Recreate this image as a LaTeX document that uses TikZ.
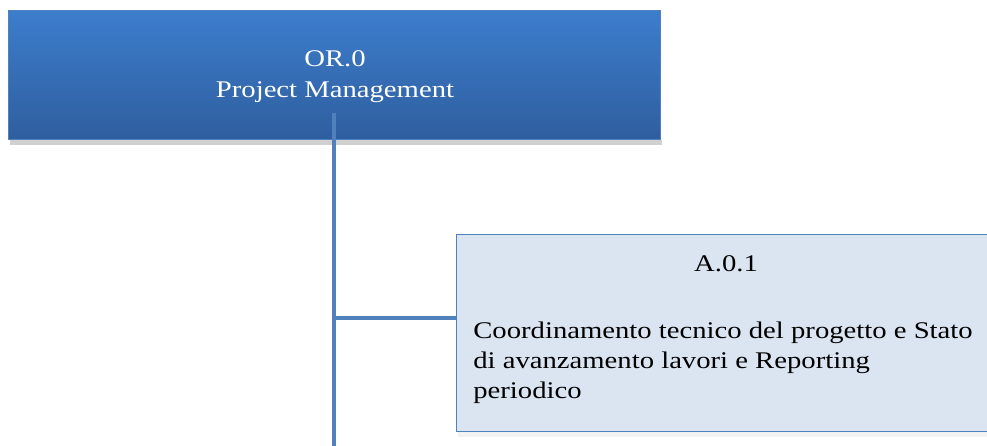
\documentclass[tikz,border=0pt]{standalone}
\usepackage{fontspec}
\setmainfont{Liberation Serif}[FakeStretch=1.2]
\definecolor{topA}{HTML}{3C7DCC}
\definecolor{topB}{HTML}{2F5E9F}
\definecolor{lineC}{HTML}{5181BC}
\definecolor{boxF}{HTML}{DBE5F1}
\definecolor{boxD}{HTML}{4F81BD}
\definecolor{shad}{HTML}{D0D0D0}
\begin{document}
\begin{tikzpicture}[x=0.02cm,y=-0.02cm,
  topbox/.style={draw=boxD,line width=0.8pt,top color=topA,bottom color=topB,minimum width=652*0.02cm,minimum height=129*0.02cm,inner sep=0pt},
  subbox/.style={draw=boxD,line width=0.8pt,fill=boxF,minimum width=540*0.02cm,minimum height=197*0.02cm,inner sep=0pt},
  txt/.style={inner sep=0pt,font=\fontsize{13.6}{17.6}\selectfont},
  conn/.style={draw=lineC,line width=2.5pt}]
\useasboundingbox (0,0) rectangle (987,446);
\begin{scope}
\clip (0,0) rectangle (987,446);
\fill[shad] (10,140) rectangle (662,145);
\fill[gray!10] (458,432) rectangle (995,437);
\node[topbox,anchor=north west] (top) at (8,10) {};
\node[subbox,anchor=north west] (sub) at (456,234) {};
\end{scope}
\node[txt,anchor=base,text=white] (toptitle) at (335,67) {OR.0};
\node[txt,anchor=base,text=white] (topname) at (335,98) {Project Management};
\node[txt,anchor=base] (subid) at (726,271) {A.0.1};
\node[txt,anchor=base west] (l1) at (473,338) {Coordinamento tecnico del progetto e Stato};
\node[txt,anchor=base west] (l2) at (473,368) {di avanzamento lavori e Reporting};
\node[txt,anchor=base west] (l3) at (473,398) {periodico};
\coordinate (vtop) at (334,113);
\coordinate (vbot) at (334,446);
\coordinate (junc) at (334,318);
\draw[conn] (vtop) -- (vbot);
\draw[conn] (junc) -- (junc -| sub.west);
\end{tikzpicture}
\end{document}
